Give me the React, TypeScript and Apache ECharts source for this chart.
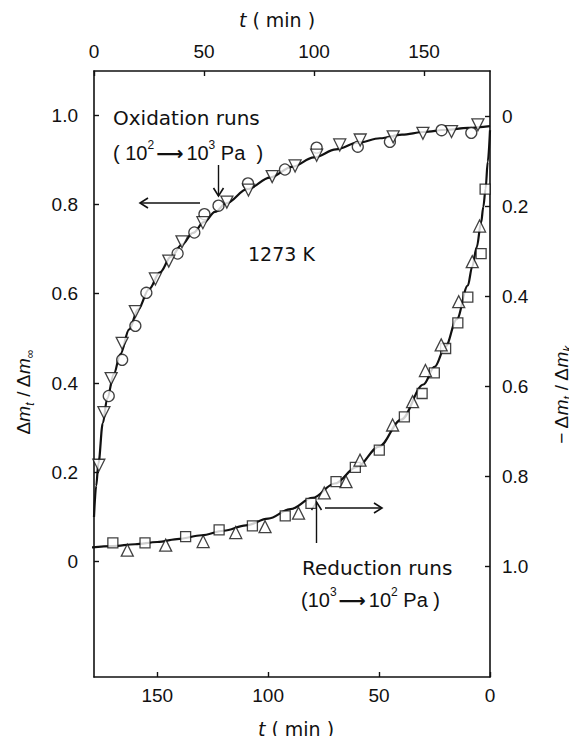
import React, { useEffect, useRef } from "react";
import * as echarts from "echarts";

// ---- Oxidation runs (top t axis, left ordinate) ----
const oxCircleT = [6.7, 12.8, 18.8, 23.8, 38, 45.6, 50.2, 56.6, 70, 86.8, 101.2, 119.9, 134.5, 158, 171.5];
const oxCircleV = [0.371, 0.452, 0.528, 0.602, 0.69, 0.737, 0.778, 0.797, 0.847, 0.878, 0.927, 0.929, 0.94, 0.966, 0.96];
const oxTriT = [2.2, 4.5, 7.8, 12.8, 18.8, 27.9, 34, 40, 49.5, 60.4, 70.2, 81, 91.4, 101.2, 111.7, 121, 136, 149.5, 162.5, 174.5];
const oxTriV = [0.216, 0.334, 0.41, 0.489, 0.56, 0.633, 0.673, 0.716, 0.759, 0.805, 0.832, 0.862, 0.886, 0.91, 0.933, 0.944, 0.951, 0.959, 0.963, 0.978];
const oxFitT = [0, 1, 2, 4, 6, 9, 12, 16, 20, 25, 30, 35, 40, 45, 50, 55, 60, 70, 80, 90, 100, 110, 120, 130, 140, 150, 160, 170, 180];
const oxFitV = [0.1, 0.17, 0.22, 0.31, 0.365, 0.42, 0.465, 0.52, 0.565, 0.61, 0.648, 0.683, 0.71, 0.736, 0.76, 0.783, 0.802, 0.835, 0.86, 0.884, 0.905, 0.923, 0.938, 0.948, 0.956, 0.962, 0.967, 0.971, 0.975];

// ---- Reduction runs (bottom t axis reversed, right ordinate inverted) ----
const redSqT = [170, 155.5, 137.2, 122.1, 107.1, 92.3, 80.7, 69.4, 60.7, 49.9, 38.6, 30.6, 25.1, 20, 14.5, 10, 4, 2.2];
const redSqV = [0.947, 0.947, 0.933, 0.918, 0.909, 0.887, 0.859, 0.811, 0.779, 0.741, 0.667, 0.615, 0.569, 0.515, 0.458, 0.401, 0.304, 0.161];
const redTriT = [163.5, 146.2, 129.3, 114.6, 101.4, 86.3, 74.7, 64.9, 58.6, 43.9, 34.9, 29.1, 22, 14.1, 8, 4.7];
const redTriV = [0.963, 0.952, 0.944, 0.924, 0.911, 0.881, 0.836, 0.811, 0.763, 0.685, 0.633, 0.564, 0.507, 0.411, 0.322, 0.243];
const redFitT = [0, 1, 2, 3, 4, 6, 8, 10, 15, 20, 25, 30, 40, 50, 60, 70, 80, 90, 100, 110, 120, 130, 140, 150, 160, 170, 180];
const redFitV = [0.03, 0.1, 0.16, 0.2, 0.235, 0.29, 0.333, 0.375, 0.45, 0.51, 0.556, 0.595, 0.673, 0.733, 0.778, 0.815, 0.847, 0.872, 0.893, 0.908, 0.92, 0.93, 0.938, 0.945, 0.95, 0.954, 0.957];

// ---- ticks ----
const tTicks = [0, 50, 100, 150];
const fracTicks = [0, 0.2, 0.4, 0.6, 0.8, 1.0];

const FONT = "Liberation Sans, Arial, Helvetica, sans-serif";
const WFONT = "DejaVu Sans, Verdana, sans-serif";
const INK = "#111";

const pairs = (xs: number[], ys: number[]) => xs.map((x, i) => [x, ys[i]]);
const fracFmt = (v: number) => (Math.abs(v) < 1e-9 ? "0" : v.toFixed(1));

export default function App() {
  const ref = useRef<HTMLDivElement>(null);
  useEffect(() => {
    if (!ref.current) return;
    const chart = echarts.init(ref.current, null, { renderer: "svg" });

    const axisLine = { show: true, onZero: false, lineStyle: { color: INK, width: 1.6 } };
    const labelBase = { color: INK, fontFamily: FONT, fontSize: 19 };
    const nameRich = {
      i: { fontStyle: "italic", fontFamily: WFONT, fontSize: 19, color: INK },
    };

    const baseRich: any = {
      sup: { fontFamily: FONT, fontSize: 12, color: INK, verticalAlign: "top", lineHeight: 15 },
      ar: { fontFamily: WFONT, fontSize: 19, fontWeight: "bold", color: INK, lineHeight: 28, padding: [0, 3, 0, 2] },
    };
    const labRich: any = {
      d: { fontFamily: FONT, fontSize: 19, color: INK, lineHeight: 26 },
      m: { fontFamily: FONT, fontSize: 19, fontStyle: "italic", color: INK, lineHeight: 26 },
      s: { fontFamily: FONT, fontSize: 12, fontStyle: "italic", color: INK, verticalAlign: "bottom", lineHeight: 15 },
      si: { fontFamily: FONT, fontSize: 12, color: INK, verticalAlign: "bottom", lineHeight: 15 },
    };

    const text = (x: number, y: number, t: string, size = 20, family = WFONT) => ({
      type: "text",
      x,
      y,
      silent: true,
      style: {
        text: t,
        fontFamily: family,
        fontSize: size,
        lineHeight: 28,
        fill: INK,
        align: "left",
        verticalAlign: "middle",
        rich: baseRich,
      },
    });
    const seg = (x1: number, y1: number, x2: number, y2: number) => ({
      type: "line",
      silent: true,
      shape: { x1, y1, x2, y2 },
      style: { stroke: INK, lineWidth: 1.4 },
    });
    const head = (pts: number[][]) => ({
      type: "polyline",
      silent: true,
      shape: { points: pts },
      style: { stroke: INK, lineWidth: 1.6, fill: "none" },
    });
    const tickStyle = { show: true, inside: true, length: 5, lineStyle: { color: INK, width: 1.4 } };

    const option: any = {
      animation: false,
      grid: { left: 94, right: 87, top: 71, bottom: 67, containLabel: false },
      xAxis: [
        {
          type: "value",
          position: "top",
          min: 0,
          max: 180,
          interval: 50,
          axisLine,
          axisTick: { ...tickStyle, customValues: tTicks },
          axisLabel: { ...labelBase, margin: 10, customValues: tTicks },
          splitLine: { show: false },
          name: "{i|t} ( min )",
          nameLocation: "middle",
          nameGap: 42,
          nameTextStyle: { color: INK, fontFamily: WFONT, fontSize: 19, rich: nameRich, padding: [0, 30, 0, 0] },
        },
        {
          type: "value",
          position: "bottom",
          inverse: true,
          min: 0,
          max: 178.5,
          axisLine,
          axisTick: { ...tickStyle, customValues: tTicks },
          axisLabel: { ...labelBase, margin: 9, customValues: tTicks },
          splitLine: { show: false },
          name: "{i|t} ( min )",
          nameLocation: "middle",
          nameGap: 42,
          nameTextStyle: { color: INK, fontFamily: WFONT, fontSize: 19, rich: nameRich, padding: [0, 0, 0, 8] },
        },
      ],
      yAxis: [
        {
          type: "value",
          position: "left",
          min: -0.258,
          max: 1.0985,
          axisLine,
          axisTick: { ...tickStyle, customValues: fracTicks },
          axisLabel: { ...labelBase, margin: 16, formatter: fracFmt, customValues: fracTicks },
          splitLine: { show: false },
        },
        {
          type: "value",
          position: "right",
          inverse: true,
          min: -0.1016,
          max: 1.245,
          axisLine,
          axisTick: { ...tickStyle, customValues: fracTicks },
          axisLabel: { ...labelBase, margin: 12, formatter: fracFmt, customValues: fracTicks },
          splitLine: { show: false },
        },
      ],
      series: [
        {
          name: "Oxidation fit",
          type: "line",
          xAxisIndex: 0,
          yAxisIndex: 0,
          data: pairs(oxFitT, oxFitV),
          smooth: 0.35,
          smoothMonotone: "x",
          showSymbol: false,
          symbol: "none",
          lineStyle: { color: INK, width: 2.2 },
          silent: true,
          z: 2,
        },
        {
          name: "Reduction fit",
          type: "line",
          xAxisIndex: 1,
          yAxisIndex: 1,
          data: pairs(redFitT, redFitV),
          smooth: 0.35,
          smoothMonotone: "x",
          showSymbol: false,
          symbol: "none",
          lineStyle: { color: INK, width: 2.2 },
          silent: true,
          z: 2,
        },
        {
          name: "Oxidation circles",
          type: "scatter",
          xAxisIndex: 0,
          yAxisIndex: 0,
          symbol: "circle",
          symbolSize: 11,
          itemStyle: { color: "#fff", borderColor: INK, borderWidth: 1.3 },
          data: pairs(oxCircleT, oxCircleV),
          silent: true,
          z: 3,
        },
        {
          name: "Oxidation triangles",
          type: "scatter",
          xAxisIndex: 0,
          yAxisIndex: 0,
          symbol: "triangle",
          symbolRotate: 180,
          symbolSize: 12,
          itemStyle: { color: "#fff", borderColor: INK, borderWidth: 1.3 },
          data: pairs(oxTriT, oxTriV),
          silent: true,
          z: 3,
        },
        {
          name: "Reduction squares",
          type: "scatter",
          xAxisIndex: 1,
          yAxisIndex: 1,
          symbol: "rect",
          symbolSize: 10,
          itemStyle: { color: "#fff", borderColor: INK, borderWidth: 1.3 },
          data: pairs(redSqT, redSqV),
          silent: true,
          z: 3,
        },
        {
          name: "Reduction triangles",
          type: "scatter",
          xAxisIndex: 1,
          yAxisIndex: 1,
          symbol: "triangle",
          symbolSize: 12,
          itemStyle: { color: "#fff", borderColor: INK, borderWidth: 1.3 },
          data: pairs(redTriT, redTriV),
          silent: true,
          z: 3,
        },
      ],
      graphic: [
        text(113, 118, "Oxidation runs"),
        text(113, 153, "( 10{sup|2}{ar|⟶}10{sup|3} Pa  )", 20, FONT),
        text(248, 254, "1273 K", 19),
        text(302, 568, "Reduction runs"),
        text(301, 600, "(10{sup|3}{ar|⟶}10{sup|2} Pa )", 20, FONT),
        // oxidation arrows
        seg(218.5, 165, 218.5, 196),
        head([[213.5, 188], [218.5, 196], [223.5, 188]]),
        seg(200, 203, 140, 203),
        head([[148, 198], [140, 203], [148, 208]]),
        // reduction arrows
        seg(316.5, 543, 316.5, 502),
        head([[311.5, 510], [316.5, 502], [321.5, 510]]),
        seg(325, 508, 382, 508),
        head([[374, 503], [382, 508], [374, 513]]),
        // ordinate titles
        {
          type: "text",
          x: 23,
          y: 392,
          rotation: Math.PI / 2,
          silent: true,
          style: {
            text: "{d|Δ}{m|m}{s|t}{d| / Δ}{m|m}{si|∞}",
            rich: labRich,
            align: "center",
            verticalAlign: "middle",
            fill: INK,
          },
        },
        {
          type: "text",
          x: 561,
          y: 395,
          rotation: Math.PI / 2,
          silent: true,
          style: {
            text: "{d|− Δ}{m|m}{s|t}{d| / Δ}{m|m}{s|k}",
            rich: labRich,
            align: "center",
            verticalAlign: "middle",
            fill: INK,
          },
        },
      ],
    };

    chart.setOption(option);
    return () => chart.dispose();
  }, []);

  return <div ref={ref} style={{ width: 577, height: 744, margin: -8, background: "#fff" }} />;
}
